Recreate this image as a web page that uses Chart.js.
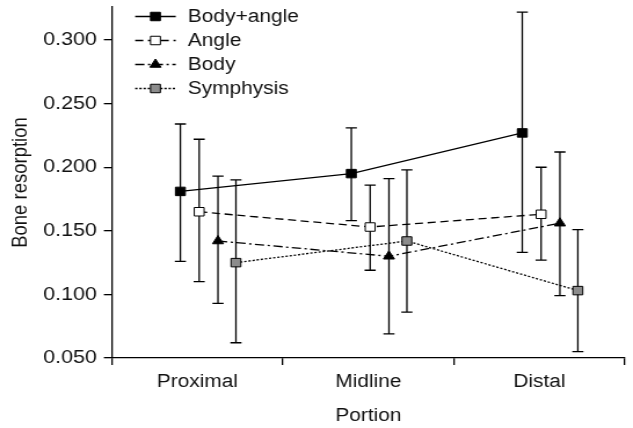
<!DOCTYPE html>
<html>
<head>
<meta charset="utf-8">
<script src="https://cdn.jsdelivr.net/npm/chart.js@4/dist/chart.umd.min.js"></script>
<style>
html, body { margin: 0; padding: 0; background: #fff; overflow: hidden; }
#wrap { width: 633px; height: 428px; }
/* the source figure is stretched sideways, so draw narrow and widen */
#chart { display: block; transform: scaleX(1.1593); transform-origin: 0 0; }
</style>
</head>
<body>
<div id="wrap"><canvas id="chart" width="546" height="428"></canvas></div>
<script>
// Bone resorption by portion, four groups, mean with error bars

const categories = ['Proximal', 'Midline', 'Distal'];
const yTickValues = [0.05, 0.10, 0.15, 0.20, 0.25, 0.30];
const seriesNames = ['Body+angle', 'Angle', 'Body', 'Symphysis'];

const bodyAngle = [0.181, 0.195, 0.227];
const bodyAngleHigh = [0.234, 0.231, 0.322];
const bodyAngleLow = [0.126, 0.158, 0.133];

const angle = [0.165, 0.153, 0.163];
const angleHigh = [0.222, 0.186, 0.200];
const angleLow = [0.110, 0.119, 0.127];

const body = [0.142, 0.130, 0.156];
const bodyHigh = [0.193, 0.191, 0.212];
const bodyLow = [0.093, 0.069, 0.099];

const symphysis = [0.125, 0.142, 0.103];
const symphysisHigh = [0.190, 0.198, 0.151];
const symphysisLow = [0.062, 0.086, 0.055];

const values = [bodyAngle, angle, body, symphysis];
const highs = [bodyAngleHigh, angleHigh, bodyHigh, symphysisHigh];
const lows = [bodyAngleLow, angleLow, bodyLow, symphysisLow];

// look of each group, and how far it sits from the category middle
const looks = [
    { dash: [], style: 'rect', fill: '#000', radius: 6, shift: -0.1 },
    { dash: [7, 4], style: 'rect', fill: '#fff', radius: 6, shift: 0.01 },
    { dash: [8, 3, 2, 3], style: 'triangle', fill: '#000', radius: 5.5, shift: 0.12 },
    { dash: [2, 1.6], style: 'rect', fill: '#8c8c8c', radius: 6, shift: 0.225 }
];

const ink = '#111';
const fontFamily = '"Liberation Sans", Arial, Helvetica, sans-serif';

const datasets = seriesNames.map((name, k) => ({
    label: name,
    data: values[k].map((v, i) => ({ x: i + looks[k].shift, y: v })),
    high: highs[k],
    low: lows[k],
    borderColor: '#000',
    borderWidth: 1.3,
    borderDash: looks[k].dash,
    backgroundColor: looks[k].fill,
    pointStyle: looks[k].style,
    pointRadius: looks[k].radius,
    pointHoverRadius: looks[k].radius,
    pointBackgroundColor: looks[k].fill,
    pointBorderColor: '#000',
    pointBorderWidth: 1,
    tension: 0,
    fill: false
}));

function drawMarker(ctx, style, x, y, r, fill) {
    ctx.save();
    ctx.setLineDash([]);
    ctx.fillStyle = fill;
    ctx.strokeStyle = '#000';
    ctx.lineWidth = 1;
    ctx.beginPath();
    if (style === 'triangle') {
        ctx.moveTo(x, y - r);
        ctx.lineTo(x + r * 0.866, y + r * 0.5);
        ctx.lineTo(x - r * 0.866, y + r * 0.5);
        ctx.closePath();
    } else {
        const s = r * Math.SQRT1_2;
        ctx.rect(x - s, y - s, 2 * s, 2 * s);
    }
    ctx.fill();
    ctx.stroke();
    ctx.restore();
}

const errorBars = {
    id: 'errorBars',
    beforeDatasetsDraw(chart) {
        const { ctx, scales: { x, y } } = chart;
        ctx.save();
        ctx.strokeStyle = '#000';
        ctx.lineWidth = 1.3;
        chart.data.datasets.forEach(ds => {
            ds.data.forEach((p, i) => {
                const px = x.getPixelForValue(p.x);
                const top = y.getPixelForValue(ds.high[i]);
                const bot = y.getPixelForValue(ds.low[i]);
                ctx.beginPath();
                ctx.moveTo(px, top); ctx.lineTo(px, bot);
                ctx.moveTo(px - 4.8, top); ctx.lineTo(px + 4.8, top);
                ctx.moveTo(px - 4.8, bot); ctx.lineTo(px + 4.8, bot);
                ctx.stroke();
            });
        });
        ctx.restore();
    }
};

const seriesLegend = {
    id: 'seriesLegend',
    afterDraw(chart) {
        const { ctx, chartArea } = chart;
        const x0 = chartArea.left + 20;
        const x1 = chartArea.left + 55;
        const xt = chartArea.left + 65.5;
        chart.data.datasets.forEach((ds, i) => {
            const yy = chartArea.top + 9.5 + i * 24;
            ctx.save();
            ctx.strokeStyle = '#000';
            ctx.lineWidth = 1.3;
            ctx.setLineDash(ds.borderDash);
            ctx.beginPath();
            ctx.moveTo(x0, yy);
            ctx.lineTo(x1, yy);
            ctx.stroke();
            ctx.restore();
            drawMarker(ctx, ds.pointStyle, (x0 + x1) / 2, yy, ds.pointRadius, ds.pointBackgroundColor);
            ctx.save();
            ctx.fillStyle = ink;
            ctx.font = '18px ' + fontFamily;
            ctx.textBaseline = 'middle';
            ctx.fillText(ds.label, xt, yy + 1);
            ctx.restore();
        });
    }
};

new Chart(document.getElementById('chart'), {
    type: 'line',
    data: { datasets },
    options: {
        responsive: false,
        animation: false,
        layout: { padding: { top: 5, right: 7, left: 0, bottom: 0 } },
        plugins: {
            legend: { display: false },
            tooltip: { enabled: false }
        },
        scales: {
            x: {
                type: 'linear',
                min: -0.5,
                max: 2.5,
                display: false
            },
            xCat: {
                type: 'category',
                position: 'bottom',
                labels: categories,
                offset: true,
                afterFit(scale) {
                    scale.height = 70;
                    scale.paddingLeft = 0;
                    scale.paddingRight = 0;
                },
                grid: {
                    offset: true,
                    drawOnChartArea: false,
                    drawTicks: true,
                    tickLength: 7,
                    color: '#000',
                    lineWidth: 1.3
                },
                border: { display: true, color: '#000', width: 1.3 },
                ticks: {
                    color: ink,
                    padding: 6,
                    maxRotation: 0,
                    font: { family: fontFamily, size: 18 }
                },
                title: {
                    display: true,
                    text: 'Portion',
                    color: ink,
                    padding: { top: 0, bottom: 1 },
                    font: { family: fontFamily, size: 18 }
                }
            },
            y: {
                min: 0.05,
                max: 0.326,
                afterFit(scale) {
                    scale.width = 96.6;
                    scale.paddingTop = 0;
                    scale.paddingBottom = 0;
                },
                afterBuildTicks(scale) {
                    scale.ticks = yTickValues.map(v => ({ value: v }));
                },
                grid: {
                    drawOnChartArea: false,
                    drawTicks: true,
                    tickLength: 7,
                    color: '#000',
                    lineWidth: 1.3
                },
                border: { display: true, color: '#000', width: 1.3 },
                ticks: {
                    color: ink,
                    padding: 6,
                    font: { family: fontFamily, size: 18.5 },
                    callback: v => Number(v).toFixed(3)
                },
                title: {
                    display: true,
                    text: 'Bone resorption',
                    color: ink,
                    padding: { top: 7, bottom: 0 },
                    font: { family: fontFamily, size: 18.5 }
                }
            }
        }
    },
    plugins: [errorBars, seriesLegend]
});
</script>
</body>
</html>
